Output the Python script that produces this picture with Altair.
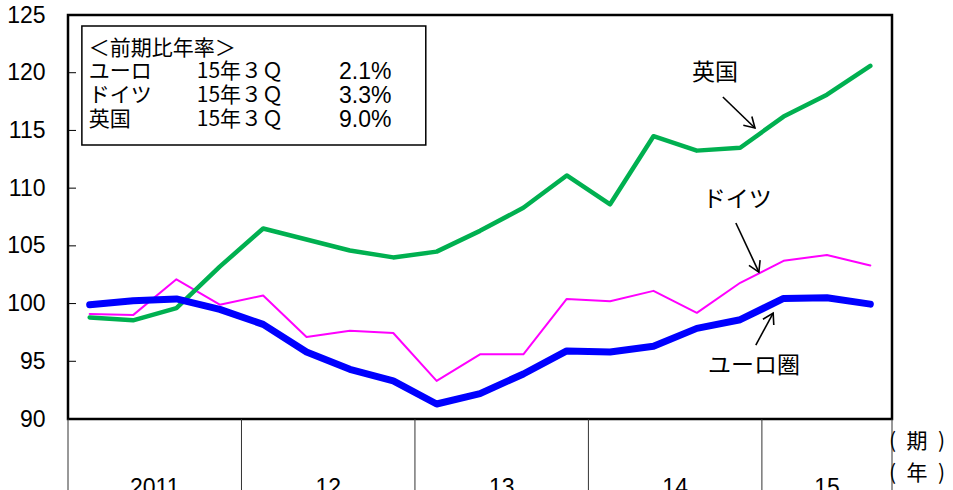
import altair as alt
import pandas as pd

# ---- data -------------------------------------------------------------
quarters = ["11Q1", "11Q2", "11Q3", "11Q4", "12Q1", "12Q2", "12Q3", "12Q4",
            "13Q1", "13Q2", "13Q3", "13Q4", "14Q1", "14Q2", "14Q3", "14Q4",
            "15Q1", "15Q2", "15Q3"]
euro = [99.9, 100.25, 100.4, 99.5, 98.2, 95.8, 94.3, 93.3, 91.3, 92.2, 93.9,
        95.9, 95.8, 96.3, 97.85, 98.6, 100.45, 100.5, 99.95]
germany = [99.1, 99.0, 102.1, 99.9, 100.7, 97.1, 97.65, 97.45, 93.3, 95.6, 95.6,
           100.4, 100.2, 101.1, 99.2, 101.8, 103.7, 104.2, 103.3]
uk = [98.8, 98.55, 99.6, 103.2, 106.5, 105.55, 104.6, 104.0, 104.5, 106.3, 108.3,
      111.1, 108.6, 114.5, 113.25, 113.5, 116.2, 118.1, 120.6]

series_names = ["ドイツ", "英国", "ユーロ圏"]
series_colors = ["#FF00FF", "#00B050", "#0000FF"]
series_widths = [2, 4.5, 7]

year_labels = ["2011", "12", "13", "14", "15"]
year_centers = [1.5, 5.5, 9.5, 13.5, 17.0]
year_bounds = [-0.5, 3.5, 7.5, 11.5, 15.5, 18.5]

y_ticks = [90, 95, 100, 105, 110, 115, 120, 125]

# legend box (data coordinates)
box_x, box_x2, box_y, box_y2 = -0.18, 7.75, 124.05, 113.74
legend_rows = ["＜前期比年率＞", "ユーロ", "ドイツ", "英国"]
legend_period = ["", "15年３Ｑ", "15年３Ｑ", "15年３Ｑ"]
legend_rates = ["", "2.1%", "3.3%", "9.0%"]
legend_row_y = [122.05, 120.06, 117.98, 115.9]
legend_col_x = [-0.02, 2.47, 5.75]

# annotations: label, label position, arrow start, arrow tip, arrow angle
ann_labels = ["英国", "ドイツ", "ユーロ圏"]
ann_lx = [14.42, 14.93, 15.32]
ann_ly = [119.97, 108.97, 94.59]
arr_x1 = [14.60, 14.90, 15.36]
arr_y1 = [117.90, 106.98, 96.41]
arr_x2 = [15.34, 15.43, 15.76]
arr_y2 = [115.21, 102.73, 99.18]
arr_ang = [134, 155, 28]

unit_labels = ["(\u2002期\u2002)", "(\u2002年\u2002)"]

# ---- layout -----------------------------------------------------------
W, H = 824, 404
JP = "Noto Sans CJK JP"
LAT = "Liberation Sans, Arial"

xs = alt.Scale(domain=[-0.5, 18.5], nice=False, zero=False)
ys = alt.Scale(domain=[90, 125], nice=False, zero=False)

rows = []
for name, vals in zip(["ユーロ圏", "ドイツ", "英国"], [euro, germany, uk]):
    for i, (q, v) in enumerate(zip(quarters, vals)):
        rows.append({"series": name, "i": i, "q": q, "v": v})
df = pd.DataFrame(rows)

yaxis = alt.Axis(values=y_ticks, ticks=False, domain=False, grid=False,
                 labelFont=LAT, labelFontSize=23, labelColor="black",
                 labelPadding=23, title=None)

def line_for(name, color, width):
    return alt.Chart(df[df.series == name]).mark_line(
        color=color, strokeWidth=width, strokeCap="round", strokeJoin="round"
    ).encode(
        x=alt.X("i:Q", scale=xs, axis=None),
        y=alt.Y("v:Q", scale=ys, axis=yaxis),
    )

lines = [line_for(n, c, w) for n, c, w in zip(series_names, series_colors, series_widths)]

tick_df = pd.DataFrame({"v": y_ticks[1:-1]})
ticks = alt.Chart(tick_df).mark_rule(color="black", strokeWidth=1).encode(
    y=alt.Y("v:Q", scale=ys, axis=yaxis), x=alt.value(0), x2=alt.value(8)
)

box_df = pd.DataFrame({"x": [box_x], "x2": [box_x2], "y": [box_y], "y2": [box_y2]})
box = alt.Chart(box_df).mark_rect(fill="white", stroke="black", strokeWidth=1.5).encode(
    x=alt.X("x:Q", scale=xs, axis=None), x2="x2:Q",
    y=alt.Y("y:Q", scale=ys, axis=yaxis), y2="y2:Q"
)

leg_rows = []
for r, p, rt, yy in zip(legend_rows, legend_period, legend_rates, legend_row_y):
    for k, (txt, xx) in enumerate(zip([r, p, rt], legend_col_x)):
        if txt:
            leg_rows.append({"t": txt, "x": xx, "y": yy, "k": k})
leg_df = pd.DataFrame(leg_rows)
leg_text = alt.Chart(leg_df[leg_df.k < 2]).mark_text(
    font=JP, fontSize=21, align="left", baseline="middle", color="black"
).encode(x=alt.X("x:Q", scale=xs, axis=None),
         y=alt.Y("y:Q", scale=ys, axis=yaxis), text="t:N")
leg_rates = alt.Chart(leg_df[leg_df.k == 2]).mark_text(
    font=LAT, fontSize=23, align="left", baseline="middle", color="black"
).encode(x=alt.X("x:Q", scale=xs, axis=None),
         y=alt.Y("y:Q", scale=ys, axis=yaxis),
         text=alt.Text("t:N"))

ann_df = pd.DataFrame({"t": ann_labels, "lx": ann_lx, "ly": ann_ly,
                       "x1": arr_x1, "y1": arr_y1, "x2": arr_x2, "y2": arr_y2,
                       "ang": arr_ang})
ann_text = alt.Chart(ann_df).mark_text(
    font=JP, fontSize=23, align="center", baseline="middle", color="black"
).encode(x=alt.X("lx:Q", scale=xs, axis=None),
         y=alt.Y("ly:Q", scale=ys, axis=yaxis), text="t:N")
shafts = alt.Chart(ann_df).mark_rule(color="black", strokeWidth=1.6).encode(
    x=alt.X("x1:Q", scale=xs, axis=None), y=alt.Y("y1:Q", scale=ys, axis=yaxis),
    x2="x2:Q", y2="y2:Q"
)
heads = alt.Chart(ann_df).mark_point(
    shape="M -0.6 1 L 0 0 L 0.6 1", filled=False, stroke="black",
    strokeWidth=1.6, size=420, opacity=1
).encode(
    x=alt.X("x2:Q", scale=xs, axis=None), y=alt.Y("y2:Q", scale=ys, axis=yaxis),
    angle=alt.Angle("ang:Q", scale=None)
)

sep_df = pd.DataFrame({"x": year_bounds})
seps = alt.Chart(sep_df).mark_rule(color="#333333", strokeWidth=1).encode(
    x=alt.X("x:Q", scale=xs, axis=None), y=alt.value(H), y2=alt.value(H + 90)
)
year_df = pd.DataFrame({"t": year_labels, "x": year_centers})
years = alt.Chart(year_df).mark_text(
    font=LAT, fontSize=23, align="center", baseline="alphabetic", color="black"
).encode(x=alt.X("x:Q", scale=xs, axis=None), y=alt.value(H + 76), text="t:N")

unit_layers = []
for lbl, dy in zip(unit_labels, [23, 55]):
    unit_layers.append(
        alt.Chart(pd.DataFrame({"t": [lbl]})).mark_text(
            font=JP, fontSize=21, align="left", baseline="middle", color="black"
        ).encode(x=alt.value(W - 3), y=alt.value(H + dy), text="t:N")
    )

chart = alt.layer(
    box, leg_text, leg_rates, *lines, ticks, shafts, heads, ann_text, seps, years,
    *unit_layers
).properties(
    width=W, height=H,
    padding={"left": 68, "top": 15, "right": 61, "bottom": 71},
    autosize=alt.AutoSizeParams(type="none"),
    background="white",
).configure_view(stroke="black", strokeWidth=2.5)

chart.save("out.html", embed_options={"renderer": "svg", "actions": False})
